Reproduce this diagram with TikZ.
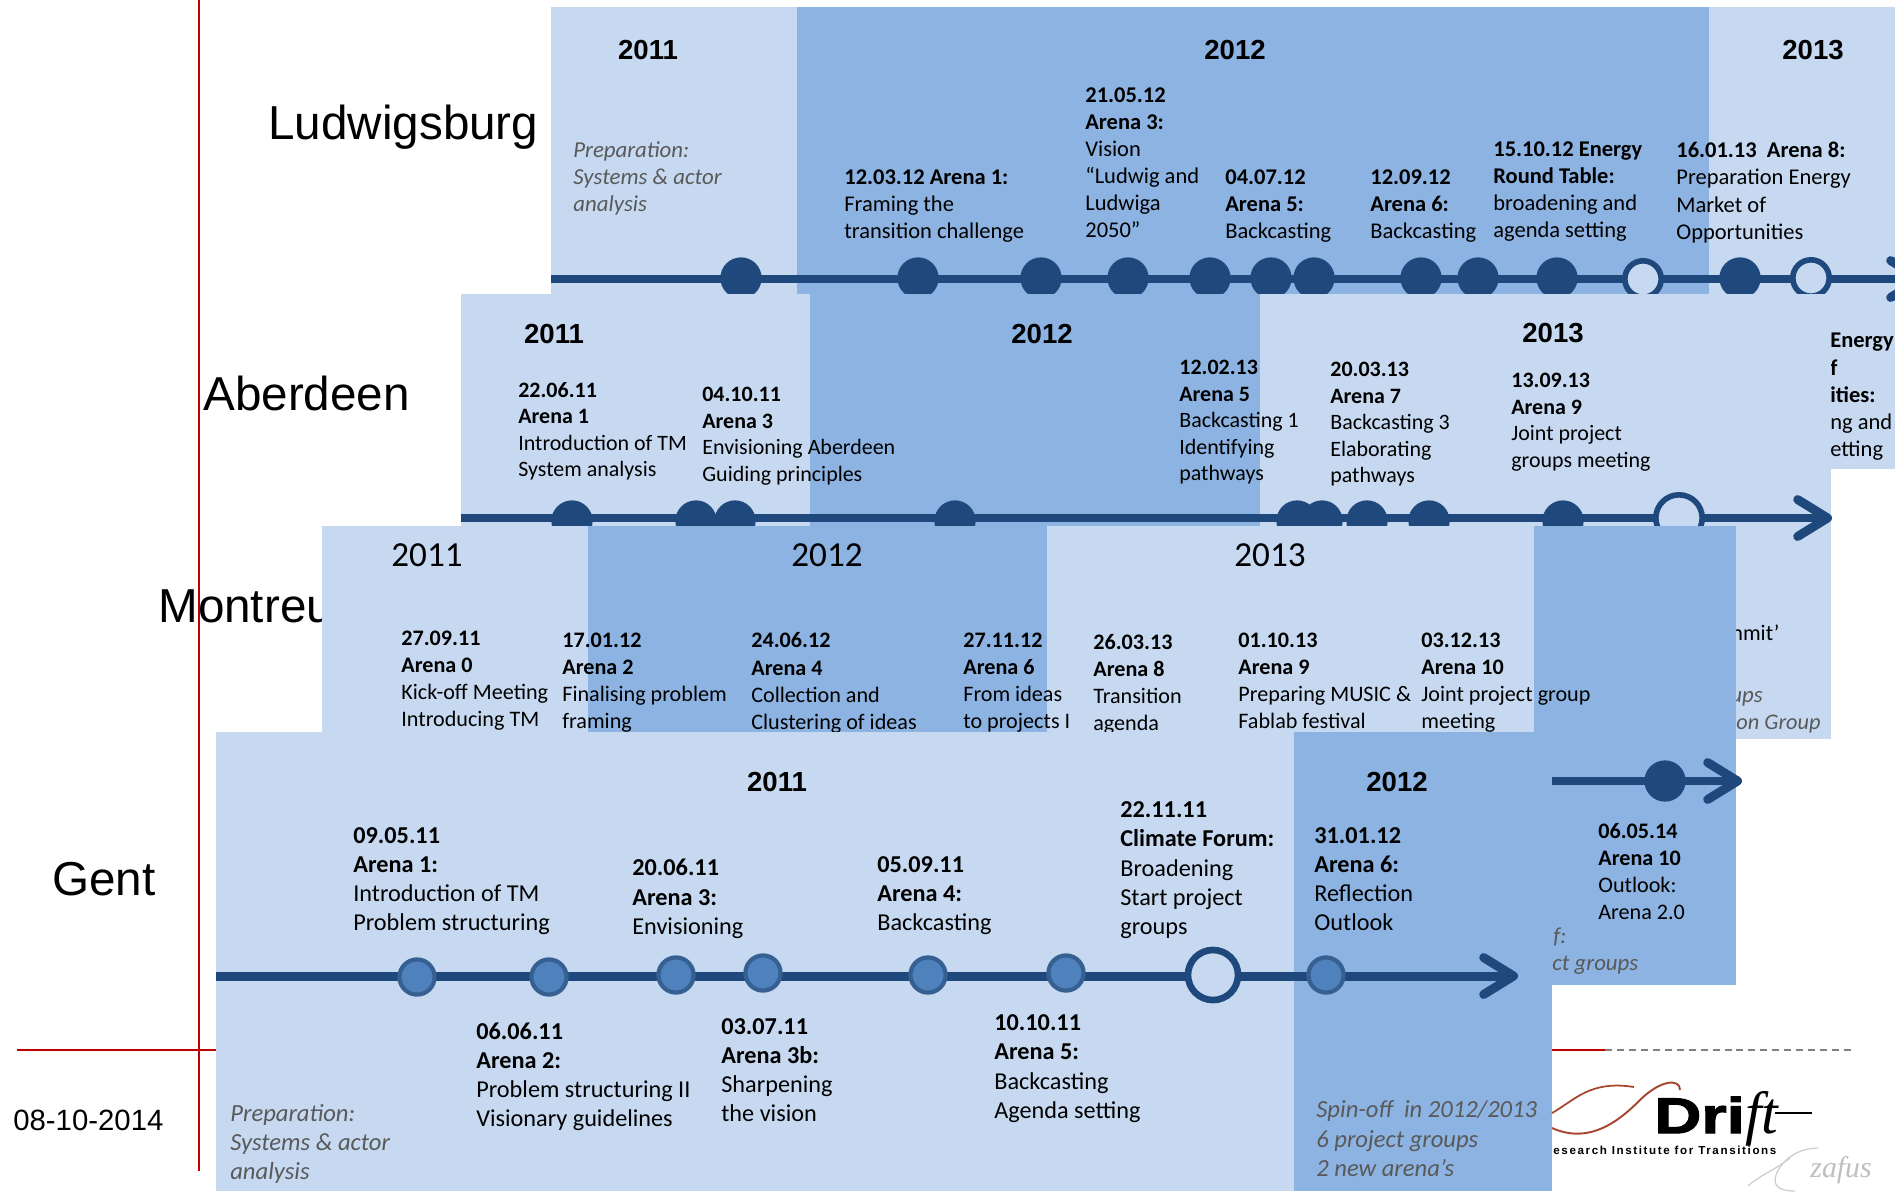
\documentclass[tikz,border=0pt]{standalone}
\usepackage{fontspec}
\usepackage{tikz}
\usetikzlibrary{arrows.meta}
\setmainfont{Carlito}
\newfontfamily\arialfont{Liberation Sans}
\newfontfamily\serifitalic{Liberation Serif}
\newfontfamily\driftfont[FakeStretch=1.3,FakeBold=2.5]{Liberation Sans}
\newfontfamily\spacedfont[LetterSpace=14]{Liberation Sans}
\definecolor{lightpanel}{HTML}{C6D9F1}
\definecolor{darkpanel}{HTML}{8DB3E2}
\definecolor{linecol}{HTML}{1F497D}
\definecolor{dotcol}{HTML}{4F81BD}
\definecolor{dotedge}{HTML}{376092}
\definecolor{greytext}{HTML}{595959}
\definecolor{redline}{HTML}{C00000}
\definecolor{wavecol}{HTML}{A8452F}
\tikzset{
	timeline/.style={draw=linecol,line width=5.1pt},
	timearrow/.style={timeline,-{Straight Barb[length=17pt,width=21pt,round]}},
	dotdark/.style={circle,fill=linecol,minimum size=23.5pt,inner sep=0pt},
	dotopen/.style={circle,draw=linecol,line width=3.2pt,fill=lightpanel,minimum size=20.7pt,inner sep=0pt},
	dotmid/.style={circle,draw=dotedge,line width=2.4pt,fill=dotcol,minimum size=20pt,inner sep=0pt},
	cityname/.style={anchor=base west,inner sep=0pt,font=\arialfont\fontsize{27.1}{32}\selectfont},
	yearbold/.style={inner sep=0pt,font=\arialfont\bfseries\fontsize{15.7}{18}\selectfont},
	yearplain/.style={inner sep=0pt,font=\fontsize{20}{24}\selectfont},
	lbl/.style={anchor=north west,inner sep=0pt,align=left,font=\fontsize{12.8}{15.4}\selectfont},
	lbltight/.style={lbl,font=\fontsize{12.5}{15.1}\selectfont},
	lblmont/.style={lbl,font=\fontsize{12.6}{15.4}\selectfont},
	lblbig/.style={anchor=north west,inner sep=0pt,align=left,font=\fontsize{13.8}{16.6}\selectfont},
	note/.style={lbl,text=greytext,font=\itshape\fontsize{13}{15.4}\selectfont},
	notebig/.style={lblbig,text=greytext,font=\itshape\fontsize{14}{16.6}\selectfont},
	rule/.style={draw=redline,line width=1.1pt}
}
\begin{document}
\begin{tikzpicture}[x=0.02cm,y=-0.02cm]
	\useasboundingbox (0,0) rectangle (1895,1191);
	
	% Ludwigsburg
	\fill[lightpanel] (551,7) rectangle (1895,469);
	\fill[darkpanel] (797,7) rectangle (1709,294);
	\node[cityname] (ludname) at (268,139) {Ludwigsburg};
	\node[yearbold] (lud2011) at (648,50) {2011};
	\node[yearbold] (lud2012) at (1235,50) {2012};
	\node[yearbold] (lud2013) at (1813,50) {2013};
	\node[note] (ludprep) at (573,141) {Preparation:\\Systems \& actor\\analysis};
	\node[lbl] (luda) at (844,169.5) {\textbf{12.03.12 Arena 1:}\\Framing the\\transition challenge};
	\node[lbl] (ludb) at (1085,87.5) {\textbf{21.05.12}\\\textbf{Arena 3:}\\Vision\\“Ludwig and\\Ludwiga\\2050”};
	\node[lbl] (ludc) at (1225,169.5) {\textbf{04.07.12}\\\textbf{Arena 5:}\\Backcasting};
	\node[lbl] (ludd) at (1370,169.5) {\textbf{12.09.12}\\\textbf{Arena 6:}\\Backcasting};
	\node[lbl] (lude) at (1493,141) {\textbf{15.10.12 Energy}\\\textbf{Round Table:}\\broadening and\\agenda setting};
	\node[lbl] (ludf) at (1676,142) {\textbf{16.01.13~~Arena 8:}\\Preparation Energy\\Market of\\Opportunities};
	\node[lbl] (ludg) at (1830,333) {\textbf{Energy}\\\textbf{f}\\\textbf{ities:}\\ng and\\etting};
	\coordinate (ludstart) at (551,279);
	\coordinate (ludend) at (1925,279);
	\draw[timearrow] (ludstart) -- (ludend);
	\node[dotdark] (ludp1) at (741,278) {};
	\node[dotdark] (ludp2) at (918,278) {};
	\node[dotdark] (ludp3) at (1041,278) {};
	\node[dotdark] (ludp4) at (1128,278) {};
	\node[dotdark] (ludp5) at (1210,278) {};
	\node[dotdark] (ludp6) at (1271,278) {};
	\node[dotdark] (ludp7) at (1314,278) {};
	\node[dotdark] (ludp8) at (1421,278) {};
	\node[dotdark] (ludp9) at (1478,278) {};
	\node[dotdark] (ludp10) at (1557,278) {};
	\node[dotopen] (ludp11) at (1643,279) {};
	\node[dotdark] (ludp12) at (1740,278) {};
	\node[dotopen] (ludp13) at (1811,278) {};
	
	% Aberdeen
	\fill[lightpanel] (461,294) rectangle (1831,526);
	\fill[darkpanel] (810,294) rectangle (1260,526);
	\node[cityname] (abername) at (203,410.5) {Aberdeen};
	\node[yearbold] (aber2011) at (554,333.5) {2011};
	\node[yearbold] (aber2012) at (1042,333.5) {2012};
	\node[yearbold] (aber2013) at (1553,333.5) {2013};
	\node[lbltight] (abera) at (518,382) {\textbf{22.06.11}\\\textbf{Arena 1}\\Introduction of TM\\System analysis};
	\node[lbltight] (aberb) at (702,387) {\textbf{04.10.11}\\\textbf{Arena 3}\\Envisioning Aberdeen\\Guiding principles};
	\node[lbltight] (aberc) at (1179,360) {\textbf{12.02.13}\\\textbf{Arena 5}\\Backcasting 1\\Identifying\\pathways};
	\node[lbltight] (aberd) at (1330,362) {\textbf{20.03.13}\\\textbf{Arena 7}\\Backcasting 3\\Elaborating\\pathways};
	\node[lbltight] (abere) at (1511,373) {\textbf{13.09.13}\\\textbf{Arena 9}\\Joint project\\groups meeting};
	\coordinate (aberstart) at (461,518);
	\coordinate (abermid) at (1725,518);
	\coordinate (aberend) at (1832,518);
	\draw[timeline] (aberstart) -- (abermid);
	\node[dotdark] (aberp1) at (572,521) {};
	\node[dotdark] (aberp2) at (696,521) {};
	\node[dotdark] (aberp3) at (735,521) {};
	\node[dotdark] (aberp4) at (955,521) {};
	\node[dotdark] (aberp5) at (1297,521) {};
	\node[dotdark] (aberp6) at (1322,521) {};
	\node[dotdark] (aberp7) at (1367,521) {};
	\node[dotdark] (aberp8) at (1429,521) {};
	\node[dotdark] (aberp9) at (1563,521) {};
	\node[dotopen,minimum size=26.4pt] (aberp10) at (1679,518) {};
	
	% Montreu
	\node[cityname] (montname) at (158,622.5) {Montreu};
	\fill[lightpanel] (322,526) rectangle (1831,739);
	\fill[darkpanel] (588,526) rectangle (1047,739);
	\draw[timearrow] (abermid) -- (aberend);
	\node[yearplain] (mont2011) at (427,555.5) {2011};
	\node[yearplain] (mont2012) at (827,555.5) {2012};
	\node[yearplain] (mont2013) at (1270,555.5) {2013};
	\node[lblmont] (monta) at (401,630.5) {\textbf{27.09.11}\\\textbf{Arena 0}\\Kick-off Meeting\\Introducing TM};
	\node[lblmont] (montb) at (562,632.5) {\textbf{17.01.12}\\\textbf{Arena 2}\\Finalising problem\\framing};
	\node[lblmont] (montc) at (751,632.5) {\textbf{24.06.12}\\\textbf{Arena 4}\\Collection and\\Clustering of ideas};
	\node[lblmont] (montd) at (963,632.5) {\textbf{27.11.12}\\\textbf{Arena 6}\\From ideas\\to projects I};
	\node[lblmont] (monte) at (1093,634) {\textbf{26.03.13}\\\textbf{Arena 8}\\Transition\\agenda};
	\node[lblmont] (montf) at (1238,632.5) {\textbf{01.10.13}\\\textbf{Arena 9}\\Preparing MUSIC \&\\Fablab festival};
	\node[lblmont,anchor=base west] (month) at (1731,640) {nmit’};
	\node[note,anchor=base west] (monti) at (1730,702) {ups};
	\node[note,anchor=base west,font=\itshape\fontsize{12.7}{15}\selectfont] (montj) at (1731,729) {ion Group};
	\fill[darkpanel] (1534,526) rectangle (1736,985);
	\node[lblmont] (montg) at (1421,632.5) {\textbf{03.12.13}\\\textbf{Arena 10}\\Joint project group\\meeting};
	\node[lblmont] (montk) at (1598,823) {\textbf{06.05.14}\\\textbf{Arena 10}\\Outlook:\\Arena 2.0};
	\node[note,anchor=base west] (montl) at (1553,943) {f:};
	\node[note,anchor=base west] (montm) at (1552,970) {ct groups};
	\coordinate (montstart) at (1552,781);
	\coordinate (montend) at (1742,781);
	\draw[timearrow] (montstart) -- (montend);
	\node[dotdark] (montp1) at (1665,781) {};
	
	% rules
	\coordinate (vtop) at (199,0);
	\coordinate (vbot) at (199,1171);
	\coordinate (hleft) at (17,1050);
	\coordinate (hmid) at (1605,1050);
	\coordinate (hright) at (1855,1050);
	\draw[rule] (vtop) -- (vbot);
	\draw[rule,line width=0.9pt] (hleft) -- (hmid);
	\draw[draw=gray,line width=0.8pt,dash pattern=on 4pt off 2.8pt] (hmid) -- (hright);
	
	% Gent
	\fill[lightpanel] (216,732) rectangle (1552,1191);
	\fill[darkpanel] (1294,732) rectangle (1552,1191);
	\node[cityname] (gentname) at (52,895) {Gent};
	\node[yearbold] (gent2011) at (777,782) {2011};
	\node[yearbold] (gent2012) at (1397,782) {2012};
	\node[lblbig] (genta) at (353,827) {\textbf{09.05.11}\\\textbf{Arena 1:}\\Introduction of TM\\Problem structuring};
	\node[lblbig] (gentb) at (632,859) {\textbf{20.06.11}\\\textbf{Arena 3:}\\Envisioning};
	\node[lblbig] (gentc) at (877,856) {\textbf{05.09.11}\\\textbf{Arena 4:}\\Backcasting};
	\node[lblbig] (gentd) at (1120,801.5) {\textbf{22.11.11}\\\textbf{Climate Forum:}\\Broadening\\Start project\\groups};
	\node[lblbig] (gente) at (1314,827) {\textbf{31.01.12}\\\textbf{Arena 6:}\\Reflection\\Outlook};
	\node[lblbig] (gentf) at (476,1022.5) {\textbf{06.06.11}\\\textbf{Arena 2:}\\Problem structuring II\\Visionary guidelines};
	\node[lblbig] (gentg) at (721,1018) {\textbf{03.07.11}\\\textbf{Arena 3b:}\\Sharpening\\the vision};
	\node[lblbig] (genth) at (994,1014.5) {\textbf{10.10.11}\\\textbf{Arena 5:}\\Backcasting\\Agenda setting};
	\node[notebig] (gentprep) at (230,1104) {Preparation:\\Systems \& actor\\analysis};
	\node[notebig] (gentspin) at (1316,1100.5) {Spin-off~~in 2012/2013\\6 project groups\\2 new arena’s};
	\coordinate (gentstart) at (216,976);
	\coordinate (gentend) at (1518,976);
	\draw[timearrow] (gentstart) -- (gentend);
	\node[dotmid] (gentp1) at (417,977) {};
	\node[dotmid] (gentp2) at (549,977) {};
	\node[dotmid] (gentp3) at (676,975) {};
	\node[dotmid] (gentp4) at (763,973) {};
	\node[dotmid] (gentp5) at (928,975) {};
	\node[dotmid] (gentp6) at (1066,973) {};
	\node[dotopen,minimum size=28.5pt,line width=3.8pt] (gentp7) at (1213,975) {};
	\node[dotmid] (gentp8) at (1326,975) {};
	
	% date
	\node[anchor=west,inner sep=0pt,font=\arialfont\fontsize{16.7}{20}\selectfont] (datelabel) at (13,1120) {08-10-2014};
	
	% logo
	\coordinate (wavea) at (1552,1113);
	\coordinate (waveb) at (1634,1087);
	\coordinate (wavec) at (1552,1128);
	\coordinate (waved) at (1680,1090);
	\draw[draw=wavecol,line width=1pt] (wavea) .. controls (1575,1100) and (1590,1080) .. (waveb);
	\draw[draw=wavecol,line width=1.1pt] (wavec) .. controls (1590,1145) and (1620,1120) .. (1640,1100) .. controls (1660,1080) and (1680,1078) .. (waved);
	\node[anchor=base west,inner sep=0pt,font=\driftfont\bfseries\fontsize{28.5}{32}\selectfont] (driftname) at (1654,1133) {Dri};
	\node[anchor=base west,inner sep=0pt,font=\serifitalic\itshape\fontsize{34}{36}\selectfont] (driftend) at (1745,1133) {ft};
	\coordinate (driftrule) at (1812,1113);
	\draw[line width=0.8pt] (1775,1113) -- (driftrule);
	\node[anchor=base west,inner sep=0pt,font=\spacedfont\bfseries\fontsize{6.6}{8}\selectfont] (drifttag) at (1553,1154) {esearch Institute for Transitions};
	\coordinate (signa) at (1818,1148);
	\coordinate (signb) at (1748,1186);
	\draw[gray!40,line width=0.7pt] (signa) .. controls (1790,1148) and (1775,1170) .. (1775,1180) .. controls (1775,1191) and (1790,1191) .. (1795,1191);
	\draw[gray!40,line width=0.7pt] (1790,1158) .. controls (1775,1170) and (1760,1175) .. (signb);
	\node[anchor=base west,inner sep=0pt,text=gray!50,font=\serifitalic\itshape\fontsize{17}{18}\selectfont] (signname) at (1810,1177) {zafus};
\end{tikzpicture}
\end{document}
